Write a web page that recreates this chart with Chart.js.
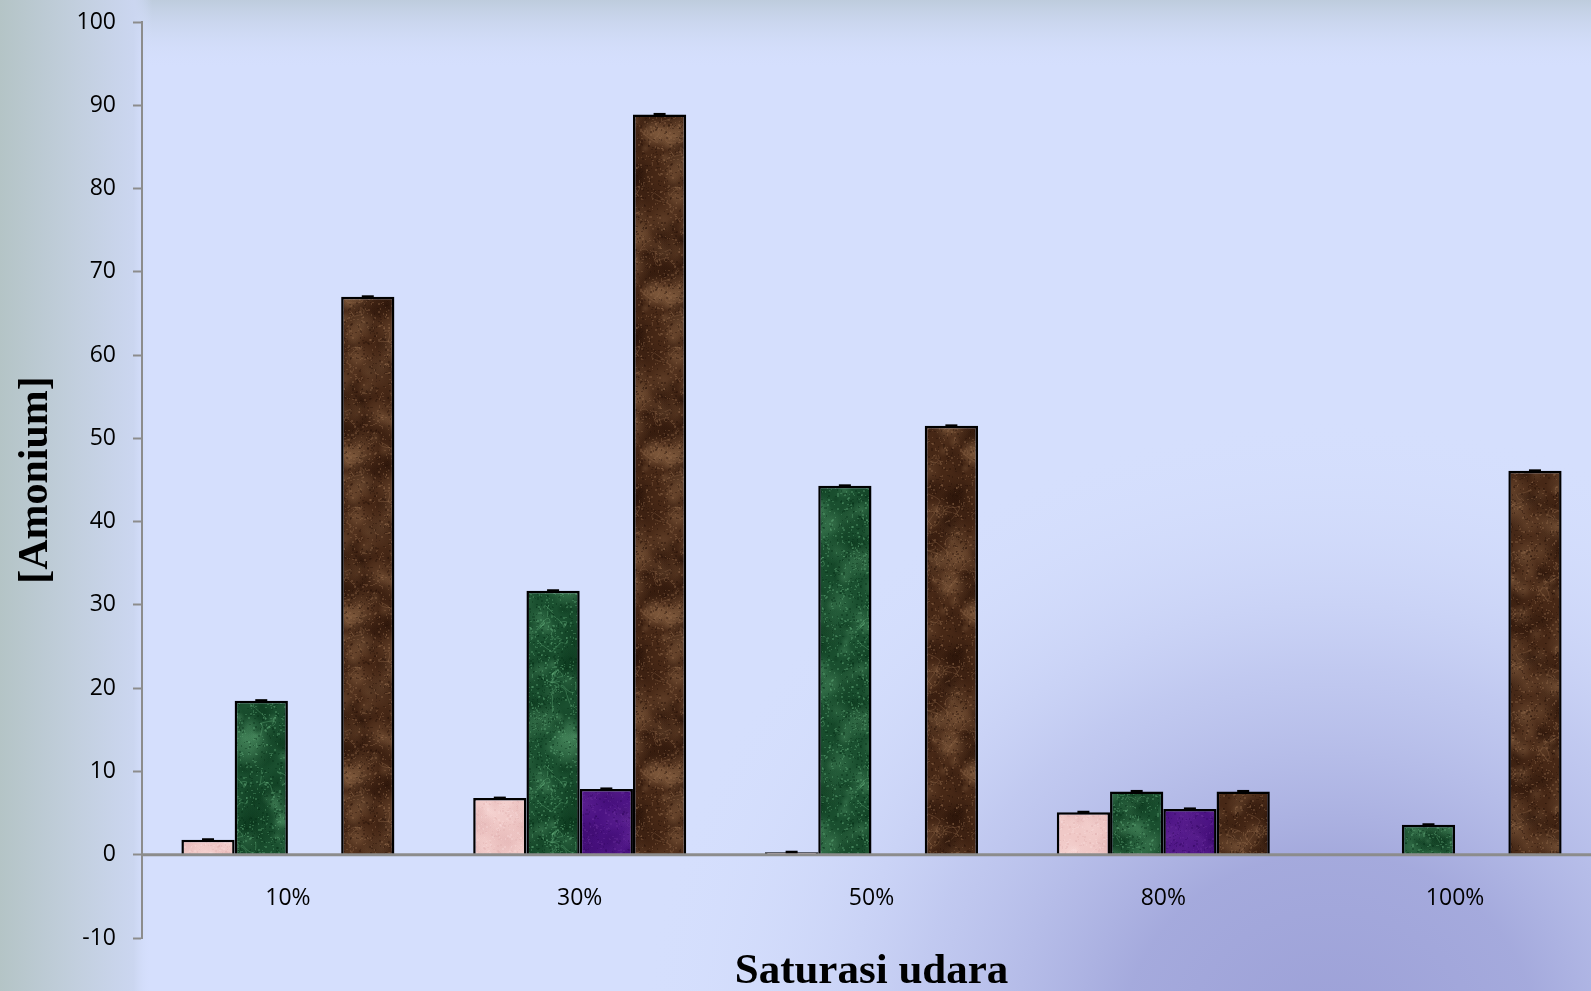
<!DOCTYPE html>
<html>
<head>
<meta charset="utf-8">
<title>Amonium vs saturasi udara</title>
<script src="https://cdn.jsdelivr.net/npm/chart.js@4.4.1/dist/chart.umd.min.js"></script>
<style>
  html, body { margin: 0; padding: 0; overflow: hidden; background: #d5dffd; }
  #chart { display: block; }
</style>
</head>
<body>
<canvas id="chart" width="1601" height="991"></canvas>
<script>
// data
const categories = ['10%', '30%', '50%', '80%', '100%'];
const seriesA = [1.8, 6.8, 0.3, 5.1, 0];    // pink
const seriesB = [18.5, 31.7, 44.3, 7.6, 3.6]; // green
const seriesC = [0, 7.9, 0, 5.5, 0];        // purple
const seriesD = [67.0, 88.9, 51.5, 7.6, 46.1]; // brown
const yTicks = [-10, 100, 10]; // min, max, step

const canvas = document.getElementById('chart');
const ctx = canvas.getContext('2d');

// small seeded generator so the marble tiles look the same every load
function mulberry32(a) {
  return function () {
    a |= 0; a = a + 0x6D2B79F5 | 0;
    let t = Math.imul(a ^ a >>> 15, 1 | a);
    t = t + Math.imul(t ^ t >>> 7, 61 | t) ^ t;
    return ((t ^ t >>> 14) >>> 0) / 4294967296;
  };
}

function marble(base, dark, light, seed, veinAlpha) {
  const size = 160;
  const tile = document.createElement('canvas');
  tile.width = tile.height = size;
  const g = tile.getContext('2d');
  const rnd = mulberry32(seed);
  g.fillStyle = base;
  g.fillRect(0, 0, size, size);
  // cloudy patches
  for (let i = 0; i < 160; i++) {
    const x = rnd() * size, y = rnd() * size, r = 4 + rnd() * 16;
    const col = rnd() < 0.55 ? dark : light;
    for (let dx = -size; dx <= size; dx += size) {
      for (let dy = -size; dy <= size; dy += size) {
        const gr = g.createRadialGradient(x + dx, y + dy, 0, x + dx, y + dy, r);
        gr.addColorStop(0, col.replace('A', '0.3'));
        gr.addColorStop(1, col.replace('A', '0'));
        g.fillStyle = gr;
        g.fillRect(x + dx - r, y + dy - r, r * 2, r * 2);
      }
    }
  }
  // veins
  g.lineWidth = 1;
  for (let i = 0; i < 22; i++) {
    g.strokeStyle = light.replace('A', String(veinAlpha));
    g.beginPath();
    let x = rnd() * size, y = rnd() * size;
    g.moveTo(x, y);
    for (let k = 0; k < 4; k++) {
      const nx = x + (rnd() - 0.5) * 30, ny = y + (rnd() - 0.5) * 30;
      g.quadraticCurveTo(x + (rnd() - 0.5) * 24, y + (rnd() - 0.5) * 24, nx, ny);
      x = nx; y = ny;
    }
    g.stroke();
  }
  // speckles
  for (let i = 0; i < 2200; i++) {
    g.fillStyle = (rnd() < 0.5 ? dark : light).replace('A', '0.35');
    g.fillRect(Math.floor(rnd() * size), Math.floor(rnd() * size), 1 + Math.floor(rnd() * 2), 1 + Math.floor(rnd() * 2));
  }
  return ctx.createPattern(tile, 'repeat');
}

const pinkFill = marble('#f0c9c7', 'rgba(224,176,176,A)', 'rgba(250,222,220,A)', 11, 0.2);
const greenFill = marble('#1a4f2f', 'rgba(4,44,20,A)', 'rgba(100,172,122,A)', 23, 0.4);
const purpleFill = marble('#4a1182', 'rgba(50,6,94,A)', 'rgba(108,48,158,A)', 37, 0.15);
const brownFill = marble('#472816', 'rgba(34,14,5,A)', 'rgba(150,110,76,A)', 41, 0.35);

// panel background: light blue with grey edges and a darker glow at the lower right
const backdrop = {
  id: 'backdrop',
  beforeDraw(chart) {
    const c = chart.ctx, w = chart.width, h = chart.height;
    c.save();
    c.fillStyle = '#d5dffd';
    c.fillRect(0, 0, w, h);

    c.save();
    c.translate(1330, 1040);
    c.scale(1, 0.9);
    const rg = c.createRadialGradient(0, 0, 0, 0, 0, 690);
    rg.addColorStop(0, 'rgba(156,160,215,1)');
    rg.addColorStop(0.3, 'rgba(162,167,219,0.95)');
    rg.addColorStop(0.6, 'rgba(180,187,232,0.6)');
    rg.addColorStop(1, 'rgba(213,223,253,0)');
    c.fillStyle = rg;
    c.fillRect(-800, -800, 1600, 1600);
    c.restore();

    const top = c.createLinearGradient(0, 0, 0, 70);
    top.addColorStop(0, 'rgba(190,204,221,1)');
    top.addColorStop(1, 'rgba(213,223,253,0)');
    c.fillStyle = top;
    c.fillRect(0, 0, w, 70);

    const left = c.createLinearGradient(0, 0, 152, 0);
    left.addColorStop(0, 'rgba(180,196,198,1)');
    left.addColorStop(0.5, 'rgba(194,207,222,1)');
    left.addColorStop(0.88, 'rgba(203,214,240,1)');
    left.addColorStop(1, 'rgba(213,223,253,0)');
    c.fillStyle = left;
    c.fillRect(0, 0, 152, h);
    c.restore();
  }
};

// zero line, error caps and category labels sitting under the zero line
const overlay = {
  id: 'overlay',
  afterDatasetsDraw(chart) {
    const c = chart.ctx;
    const x = chart.scales.x, y = chart.scales.y;
    const y0 = y.getPixelForValue(0);
    c.save();
    c.strokeStyle = '#8c8c8c';
    c.lineWidth = 3;
    c.beginPath();
    c.moveTo(chart.chartArea.left, y0);
    c.lineTo(chart.chartArea.right, y0);
    c.stroke();

    c.fillStyle = '#000';
    chart.data.datasets.forEach((ds, i) => {
      chart.getDatasetMeta(i).data.forEach((bar, j) => {
        if (ds.data[j] > 0) c.fillRect(bar.x - 6, bar.y - 1.5, 12, 2.5);
      });
    });

    c.font = '23px "Open Sans"';
    c.textAlign = 'center';
    c.textBaseline = 'alphabetic';
    categories.forEach((lab, i) => {
      c.fillText(lab, x.getPixelForValue(i), y0 + 50);
    });
    c.restore();
  }
};

const barStyle = { borderColor: '#000', borderWidth: 2.5, borderSkipped: 'start' };

new Chart(ctx, {
  type: 'bar',
  data: {
    labels: categories,
    datasets: [
      { label: 'A', data: seriesA, backgroundColor: pinkFill, ...barStyle },
      { label: 'B', data: seriesB, backgroundColor: greenFill, ...barStyle },
      { label: 'C', data: seriesC, backgroundColor: purpleFill, ...barStyle },
      { label: 'D', data: seriesD, backgroundColor: brownFill, ...barStyle }
    ]
  },
  options: {
    responsive: false,
    animation: false,
    layout: { padding: { top: 22, left: 0, right: 0, bottom: 0 } },
    datasets: { bar: { barPercentage: 1, categoryPercentage: 0.73 } },
    plugins: { legend: { display: false }, tooltip: { enabled: false } },
    scales: {
      x: {
        grid: { display: false },
        border: { display: false },
        ticks: { display: false },
        title: {
          display: true,
          text: 'Saturasi udara',
          color: '#000',
          font: { family: '"Liberation Serif", "Times New Roman", serif', size: 43, weight: 'bold', lineHeight: 1 },
          padding: { top: 0, bottom: -2 }
        },
        afterFit(scale) { scale.height = 53; }
      },
      y: {
        min: yTicks[0],
        max: yTicks[1],
        ticks: {
          stepSize: yTicks[2],
          color: '#000',
          padding: 17,
          font: { family: '"Open Sans", sans-serif', size: 23 }
        },
        grid: {
          color: 'rgba(0,0,0,0)',
          tickColor: '#8c8c8c',
          tickLength: 9,
          tickWidth: 2
        },
        border: { color: '#8c8c8c', width: 2 },
        title: {
          display: true,
          text: '[Amonium]',
          color: '#000',
          font: { family: '"Liberation Serif", "Times New Roman", serif', size: 42, weight: 'bold', lineHeight: 1 },
          padding: { top: 15, bottom: 0 }
        },
        afterFit(scale) {
          scale.width = 142;
          // the tick label padding would otherwise push the plot top down
          scale.paddingTop = 0;
          scale.paddingBottom = 0;
        }
      }
    }
  },
  plugins: [backdrop, overlay]
});
</script>
</body>
</html>
